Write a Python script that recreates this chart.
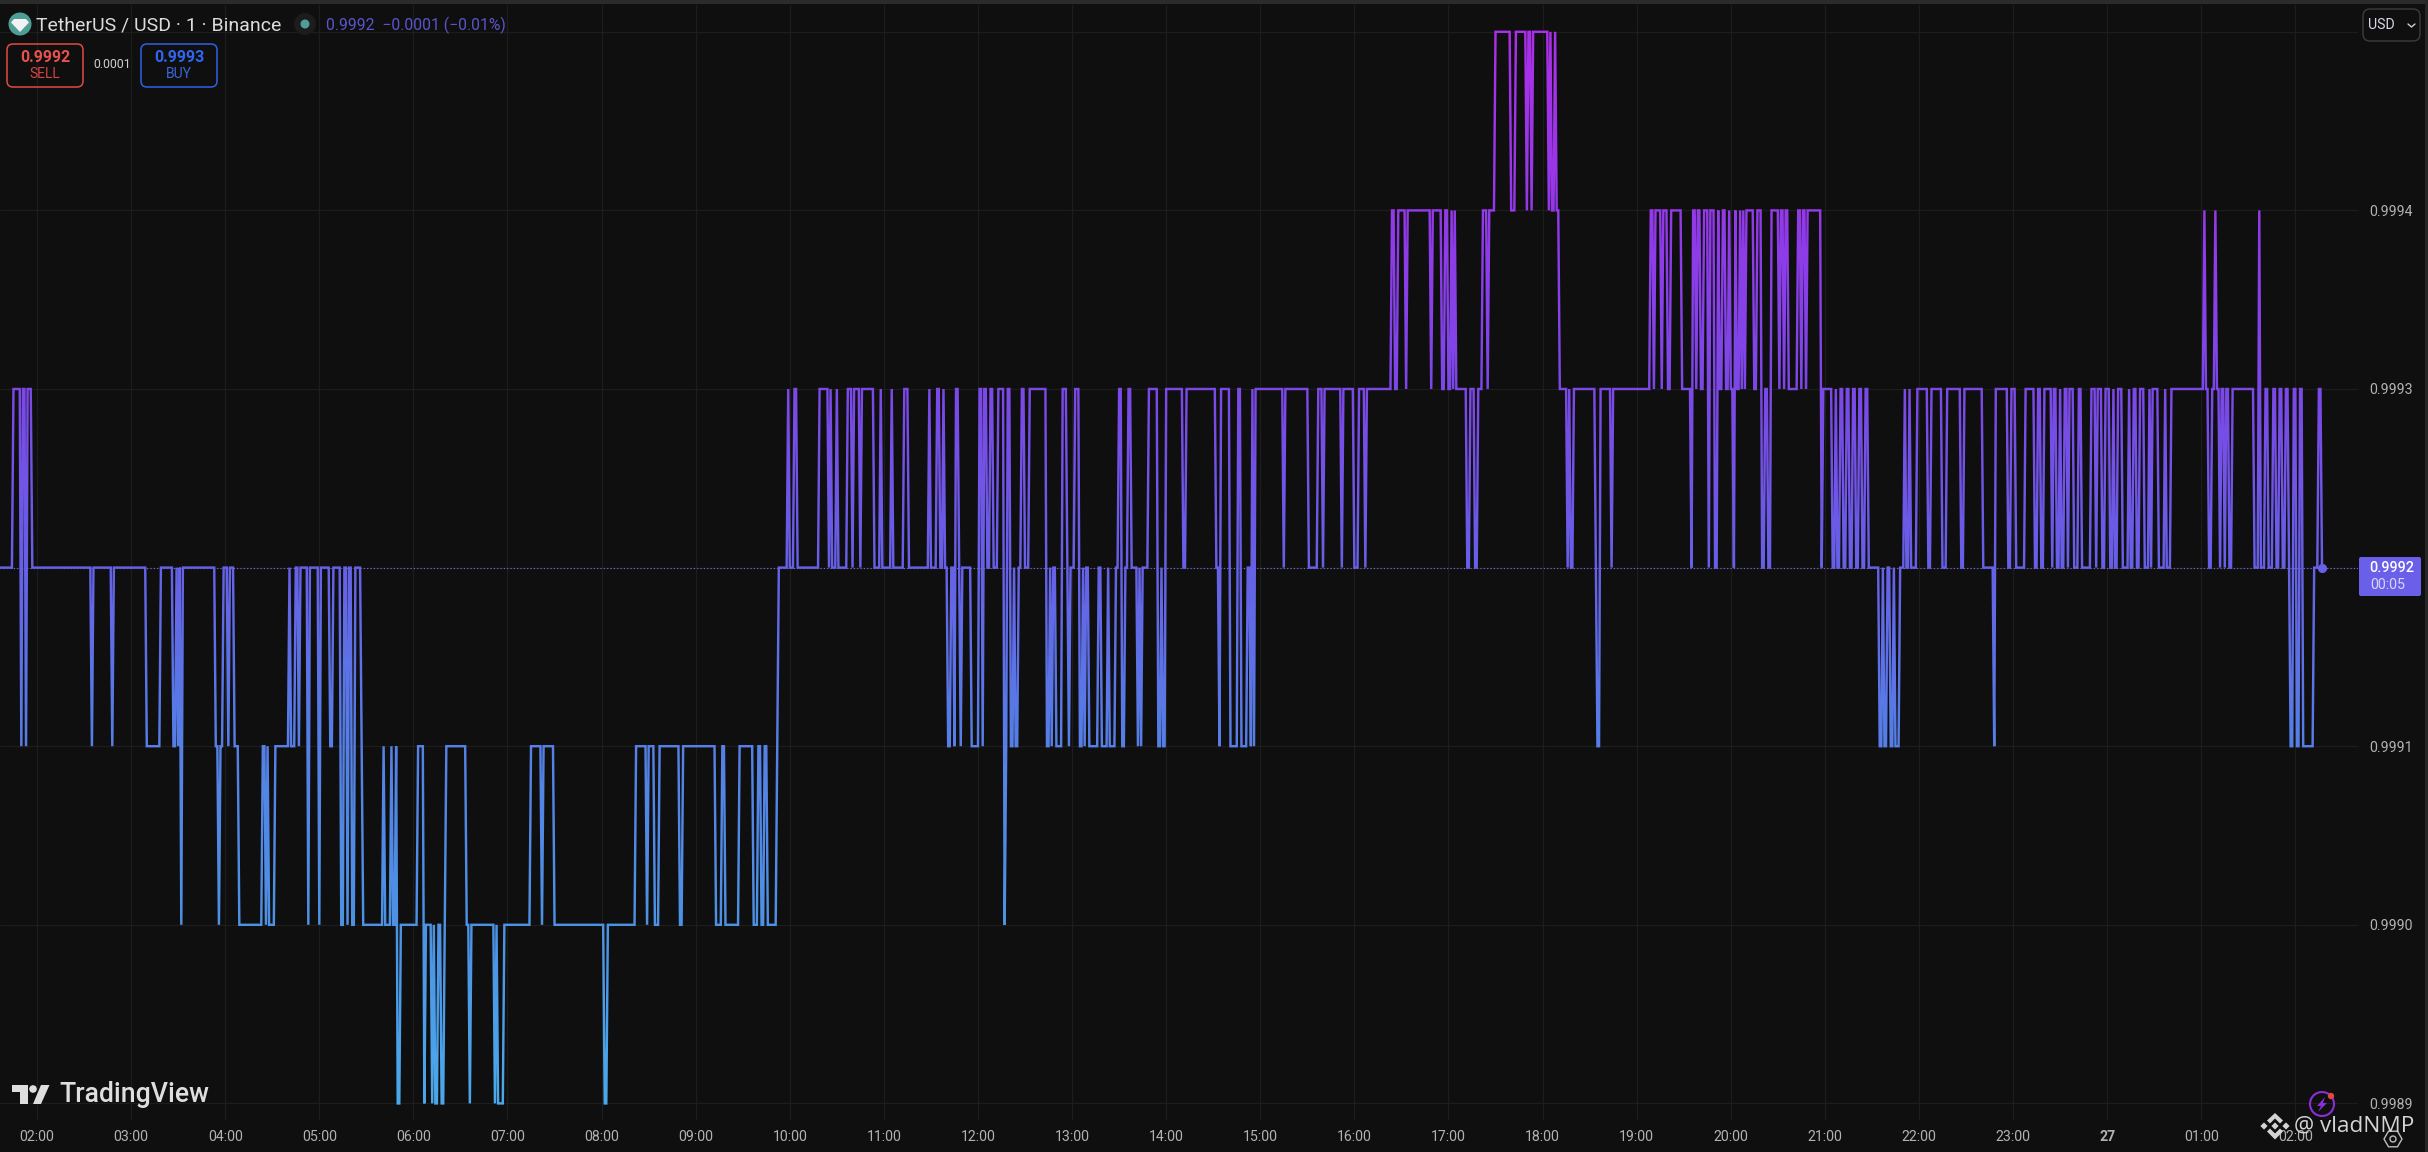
import numpy as np, pandas as pd, matplotlib
matplotlib.use("Agg")
import matplotlib.pyplot as plt, seaborn as sns
from matplotlib.colors import LinearSegmentedColormap
from matplotlib.patches import FancyBboxPatch, Rectangle, Circle, Polygon
from matplotlib.transforms import Bbox, TransformedBbox

# price runs: minute (since 02:00 of the first day) at which the 1-min close changes, and the new close in 1e-4 USD
run_start = [
-24,-15,-10,-9,-7,-6,-3,35,36,48,49,70,79,87,89,90,91,92,93,114,116,117,119,122,123,126,129,144,146,147,148,152,161,162,165,167,168,173,174,180,181,187,189,194,196,198,199,201,203,207,208,221,222,226,227,229,230,232,243,247,248,252,253,254,256,258,260,261,274,276,277,292,293,294,298,315,322,323,330,362,364,382,389,390,394,397,410,412,433,437,439,448,457,460,462,464,466,472,473,479,480,483,485,
499,505,506,507,510,511,517,520,521,525,526,534,538,539,545,546,553,556,569,570,574,576,578,579,581,583,585,586,588,589,590,596,601,603,604,606,608,610,613,617,618,619,621,623,624,626,628,630,633,644,646,647,648,650,654,657,658,659,662,665,667,668,669,671,677,679,683,684,688,690,692,694,696,698,702,703,704,705,709,715,717,718,720,731,733,752,754,755,761,766,768,772,774,775,776,777,795,796,811,817,820,821,832,833,840,843,847,848,
864,866,868,873,874,889,890,896,898,900,902,903,904,905,912,914,917,919,922,925,926,930,940,943,950,951,953,954,964,965,966,968,969,971,976,977,978,980,994,995,
997,1004,1005,1029,1031,1032,1036,1037,1040,1042,1049,1055,1056,1058,1059,1061,1063,1066,1067,1070,1072,1073,1075,1077,1079,1080,1082,1083,1084,1086,1087,1088,1089,1090,1095,1097,1100,1102,1104,1106,1111,1112,1114,1115,1117,1123,1125,1126,1128,1129,1138,1139,1145,1147,1148,1150,1152,1154,1156,1158,1160,1162,1164,1166,1168,1175,1177,1178,1180,1182,1184,1185,1188,1191,1192,1194,1195,1199,1206,1208,1215,1218,1227,1229,1241,1248,1249,1257,1259,1262,1268,1274,1276,1278,1280,1285,1286,1288,1290,1291,1293,1295,1296,1299,1302,1304,1310,1313,1314,1317,1319,1322,1324,1325,1327,1330,1334,1335,1337,1339,1341,1344,1347,1348,1349,1353,1357,1358,1361,1382,1383,1385,1387,1389,1390,1392,1393,1395,1396,1398,1400,1414,1417,1418,1421,1423,1426,1428,1430,1432,1434,1436,1437,1439,1441,1443,1445,1452,1455,1457]
run_price = [
9992,9993,9991,9993,9991,9993,9992,9991,9992,9991,9992,9991,9992,9991,9992,9991,9992,9990,9992,9991,9990,9991,9992,9991,9992,9991,9990,9991,9990,9991,9990,9991,9992,9991,9992,9991,9992,9990,9992,9990,9992,9991,9992,9990,9992,9990,9992,9990,9992,9991,9990,9991,9990,9991,9990,9991,9989,9990,9991,9989,9990,9989,9990,9989,9990,9989,9990,9991,9990,9989,9990,9989,9990,9989,9990,9991,9990,9991,9990,9989,9990,9991,9990,9991,9990,9991,9990,9991,9990,9991,9990,9991,9990,9991,9990,9991,9990,9991,9992,9993,9992,9993,9992,
9993,9992,9993,9992,9993,9992,9993,9992,9993,9992,9993,9992,9993,9992,9993,9992,9993,9992,9993,9992,9993,9992,9993,9992,9991,9992,9991,9993,9992,9991,9992,9991,9993,9991,9993,9992,9993,9992,9993,9990,9991,9993,9991,9992,9991,9992,9993,9992,9993,9991,9992,9991,9992,9991,9993,9992,9991,9992,9993,9991,9992,9991,9992,9991,9992,9991,9992,9991,9992,9993,9991,9992,9993,9992,9991,9992,9991,9992,9993,9991,9992,9991,9993,9992,9993,9992,9991,9993,9991,9993,9991,9992,9991,9993,9991,9993,9992,9993,9992,9993,9992,9993,9992,9993,9992,9993,9992,9993,
9994,9993,9994,9993,9994,9993,9994,9993,9994,9993,9994,9993,9994,9993,9992,9993,9992,9993,9994,9993,9994,9995,9994,9995,9994,9995,9994,9995,9994,9995,9994,9995,9994,9993,9992,9993,9992,9993,9992,9991,
9993,9992,9993,9994,9993,9994,9993,9994,9993,9994,9993,9992,9994,9993,9994,9993,9994,9992,9994,9992,9994,9993,9994,9993,9994,9993,9992,9994,9993,9994,9993,9994,9993,9994,9993,9994,9992,9993,9992,9994,9993,9994,9993,9994,9993,9994,9993,9994,9993,9994,9992,9993,9992,9993,9992,9993,9992,9993,9992,9993,9992,9993,9992,9993,9992,9991,9992,9991,9992,9991,9992,9991,9992,9993,9992,9993,9992,9993,9992,9993,9992,9993,9992,9993,9992,9991,9993,9992,9993,9992,9993,9992,9993,9992,9993,9992,9993,9992,9993,9992,9993,9992,9993,9992,9993,9992,9993,9992,9993,9992,9993,9992,9993,9992,9993,9992,9993,9992,9993,9992,9993,9992,9993,9992,9993,9992,9993,9992,9993,9994,9993,9992,9993,9994,9993,9992,9993,9992,9993,9992,9993,9992,9994,9992,9993,9992,9993,9992,9993,9992,9993,9992,9991,9993,9991,9993,9991,9992,9993,9992]
tick_minutes = list(range(0, 1441, 60))
tick_labels = ["02:00","03:00","04:00","05:00","06:00","07:00","08:00","09:00","10:00","11:00","12:00","13:00","14:00","15:00","16:00","17:00","18:00","19:00","20:00","21:00","22:00","23:00","27","01:00","02:00"]
price_ticks = [0.9989,0.9990,0.9991,0.9992,0.9993,0.9994,0.9995]
price_labels = ["0.9989","0.9990","0.9991","","0.9993","0.9994",""]
last_price = 0.9992

W, H = 2428, 1152
BG = "#0f0f0f"
sns.set_theme(style="dark")
plt.rcParams["font.family"] = ["Roboto", "DejaVu Sans"]
fig = plt.figure(figsize=(W/100, H/100), dpi=100, facecolor=BG)
ax = fig.add_axes([0, 1-1120/H, 2358/W, (1120-5)/H], facecolor=BG)

s = pd.Series([p/10000 for p in run_price[:len(run_start)]], index=run_start[:len(run_price)])
s = s.groupby(level=0).last().sort_index()
minutes = np.arange(s.index[0], s.index[-1]+1)
close = s.reindex(minutes, method="ffill")
data = pd.DataFrame({"minute": minutes, "close": close.values})

ax.set_xlim(-23.6, (2358-37)/1.5683)
ax.set_ylim(0.9993-(1120-389)/178.6*1e-4, 0.9993+(389-5)/178.6*1e-4)
ax.set_xticks(tick_minutes, tick_labels)
ax.set_yticks(price_ticks, price_labels)
ax.yaxis.tick_right()
ax.grid(True, color="#1d1d1d", lw=0.9)
ax.tick_params(length=0, colors="#b2b2b2", labelsize=10.2)
ax.tick_params(axis="x", pad=7)
ax.tick_params(axis="y", pad=8)
ax.set_xlabel(""); ax.set_ylabel("")
for sp in ax.spines.values(): sp.set_visible(False)
ax.set_axisbelow(True)
for lab in ax.get_xticklabels():
    if lab.get_text() == "27":
        lab.set_fontweight("bold")

ax.axhline(last_price, color="#7c6cf0", lw=0.8, ls=(0, (1, 2)), zorder=1.5)

cmap = LinearSegmentedColormap.from_list("tv", ["#4ba8ea","#4c92e4","#5580e6","#6660e6","#7b48e6","#9338e8","#ab2fe8"])
y0, y1 = 0.9989, 0.9995
nb = 60
for i in range(nb):
    a = y0 + (y1-y0)*i/nb
    b = y0 + (y1-y0)*(i+1)/nb
    n0 = len(ax.lines)
    sns.lineplot(data=data, x="minute", y="close", color=cmap((i+.5)/nb), lw=1.75, ax=ax, estimator=None, legend=False, zorder=3)
    line = ax.lines[n0]
    line.set_solid_joinstyle("miter")
    line.set_clip_box(TransformedBbox(Bbox.from_extents(-100, a-(0 if i else 1e-4), 1600, b+(0 if i<nb-1 else 1e-4)), ax.transData))
ax.set_xlabel(""); ax.set_ylabel("")
ax.plot([minutes[-1]], [close.values[-1]], "o", color="#6a5fe8", ms=5.6, zorder=4)

# --- chrome overlay in pixel coordinates
ov = fig.add_axes([0,0,1,1], facecolor="none", zorder=10)
ov.set_xlim(0, W); ov.set_ylim(H, 0); ov.axis("off")
ov.add_patch(Rectangle((0,0), W, 4, color="#2b2b2b", lw=0))
ov.add_patch(Rectangle((2425,0), 3, H, color="#262626", lw=0))

def box(x0,y0,x1,y1,ec,fc="none",r=6,lw=1.1):
    ov.add_patch(FancyBboxPatch((x0+r,y0+r), x1-x0-2*r, y1-y0-2*r, boxstyle=f"round,pad={r},rounding_size={r}", ec=ec, fc=fc, lw=lw))

# tether icon
ov.add_patch(Circle((20,24), 11.5, color="#4f9e95", lw=0))
ov.add_patch(Polygon([(14,19),(26,19),(29,22.5),(20,32),(11,22.5)], color="#f2f2f2", lw=0))
ov.text(36, 25, "TetherUS / USD · 1 · Binance", color="#dcdcdc", fontsize=14, va="center", ha="left")
ov.add_patch(Circle((305,24), 11, color="#1c1c1c", lw=0))
ov.add_patch(Circle((305,24), 4.5, color="#4f9e95", lw=0))
ov.text(326, 25, "0.9992  −0.0001 (−0.01%)", color="#5a55cc", fontsize=11.3, va="center", ha="left")

box(7,44,83,87,"#e04a45")
ov.text(45,57,"0.9992",color="#e8524d",fontsize=11.5,fontweight="bold",ha="center",va="center")
ov.text(45,74,"SELL",color="#d9443f",fontsize=10,ha="center",va="center")
ov.text(112,65,"0.0001",color="#cfcfcf",fontsize=8.8,ha="center",va="center")
box(141,44,217,87,"#2f5fe8")
ov.text(179,57,"0.9993",color="#2f66f0",fontsize=11.5,fontweight="bold",ha="center",va="center")
ov.text(179,74,"BUY",color="#3a66d8",fontsize=10,ha="center",va="center")

box(2363,9,2420,41,"#3c3c3c",r=7,lw=1)
ov.text(2381,25,"USD",color="#d8d8e8",fontsize=10.2,ha="center",va="center")
ov.plot([2408,2411.5,2415],[24,27,24],color="#cfcfcf",lw=1)

ov.add_patch(FancyBboxPatch((2360,558),60,37,boxstyle="round,pad=1,rounding_size=2",fc="#6a5fe8",ec="none"))
ov.text(2392,568,"0.9992",color="#ffffff",fontsize=10.4,fontweight="medium",ha="center",va="center")
ov.text(2388,585,"00:05",color="#d9d5fa",fontsize=10.2,ha="center",va="center")

# TradingView mark
tvc = "#dedede"
ov.add_patch(Polygon([(12,1085),(28,1085),(28,1104),(20,1104),(20,1092),(12,1092)], color=tvc, lw=0))
ov.add_patch(Circle((33,1089), 3.8, color=tvc, lw=0))
ov.add_patch(Polygon([(41,1085),(49.5,1085),(41,1104),(33,1104)], color=tvc, lw=0))
ov.text(59,1095,"TradingView",color=tvc,fontsize=19.2,fontweight="medium",ha="left",va="center")

# lightning badge
ov.add_patch(Circle((2322,1104),12,fc="none",ec="#8a2fd8",lw=1.5))
ov.add_patch(Polygon([(2325,1097),(2317,1106),(2321,1106),(2318,1112),(2327,1103),(2323,1103)],color="#8a2fd8",lw=0))
ov.add_patch(Circle((2331,1096),3.2,color="#e0483f",lw=0))
# settings hexagon
ang = np.deg2rad(np.arange(0,360,60))
ov.add_patch(Polygon(np.c_[2393+9*np.cos(ang),1139+9*np.sin(ang)],fc="none",ec="#bdbdbd",lw=1))
ov.add_patch(Circle((2393,1139),3,fc="none",ec="#bdbdbd",lw=1))

# watermark
wc = "#d4d4d4"
for cx,cy,r in [(2275,1126,3.6),(2264,1126,3.6),(2286,1126,3.6)]:
    ov.add_patch(Polygon([(cx,cy-r),(cx+r,cy),(cx,cy+r),(cx-r,cy)],color=wc,lw=0))
ov.add_patch(Polygon([(2275,1113),(2283,1120.5),(2280,1123.5),(2275,1118.5),(2270,1123.5),(2267,1120.5)],color=wc,lw=0))
ov.add_patch(Polygon([(2275,1139.5),(2283,1131.5),(2280,1128.5),(2275,1133.5),(2270,1128.5),(2267,1131.5)],color=wc,lw=0))
ov.text(2294,1126,"@ vladNMP",color=wc,fontsize=16.2,ha="left",va="center",family=["Open Sans","DejaVu Sans"])

fig.savefig("out.png", dpi=100, facecolor=BG)
